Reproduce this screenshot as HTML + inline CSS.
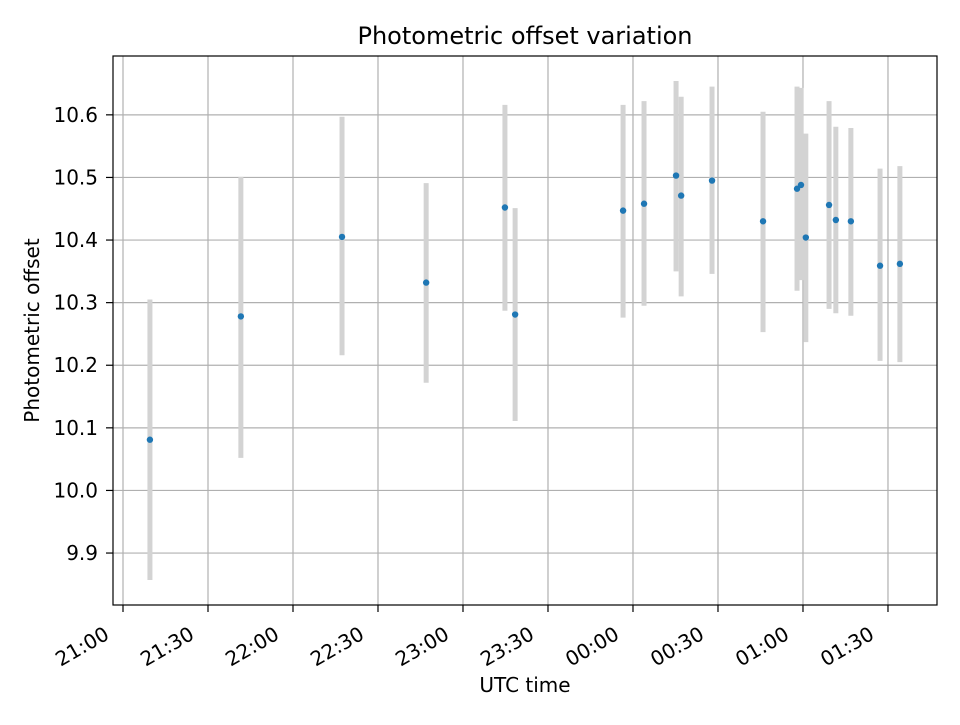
<!DOCTYPE html>
<html><head><meta charset="utf-8"><style>
body{margin:0;background:#fff;font-family:"Liberation Sans","DejaVu Sans",sans-serif}
svg text{font-family:"DejaVu Sans","Liberation Sans",sans-serif;fill:#000}
</style></head><body>
<svg id="chart" width="960" height="720" xmlns="http://www.w3.org/2000/svg"></svg>
<script>
// minutes after 21:00 UTC
const times=[9.5,41.6,77.3,107,134.8,138.4,176.5,183.9,195.2,197,207.9,225.9,237.9,239.3,241,249.2,251.6,256.9,267.2,274.2];
const offsets=[10.081,10.278,10.405,10.332,10.452,10.281,10.447,10.458,10.503,10.471,10.495,10.430,10.482,10.488,10.404,10.456,10.432,10.430,10.359,10.362];
const errLow=[9.857,10.052,10.216,10.172,10.287,10.111,10.276,10.295,10.350,10.310,10.346,10.253,10.319,10.336,10.237,10.290,10.283,10.279,10.207,10.205];
const errHigh=[10.305,10.501,10.597,10.491,10.616,10.451,10.616,10.622,10.654,10.629,10.645,10.605,10.645,10.643,10.570,10.622,10.581,10.579,10.514,10.518];
const xTickLabels=["21:00","21:30","22:00","22:30","23:00","23:30","00:00","00:30","01:00","01:30"];
const yTickLabels=["9.9","10.0","10.1","10.2","10.3","10.4","10.5","10.6"];

const L=113,R=937,T=56,B=605;
const xMin=-3.53,xMax=287.3,yMin=9.817,yMax=10.694;
const sx=v=>L+(v-xMin)/(xMax-xMin)*(R-L);
const sy=v=>B-(v-yMin)/(yMax-yMin)*(B-T);
const svg=document.getElementById('chart');
const NS="http://www.w3.org/2000/svg";
function el(tag,attrs,parent){const e=document.createElementNS(NS,tag);for(const k in attrs)e.setAttribute(k,attrs[k]);(parent||svg).appendChild(e);return e;}

const grid=el('g',{});


xTickLabels.forEach((lab,i)=>{
  const x=sx(i*30);
  el('line',{x1:x,x2:x,y1:T,y2:B,stroke:'#b0b0b0','stroke-width':1.2},grid);
  el('line',{x1:x,x2:x,y1:B,y2:B+7,stroke:'#000','stroke-width':1.2});
  const px=x-12.5,py=B+33;
  const t=el('text',{x:px,y:py,'font-size':20,'text-anchor':'end',transform:`rotate(-30 ${px} ${py})`});
  
  
  t.textContent=lab;
});
yTickLabels.forEach(lab=>{
  const y=sy(parseFloat(lab));
  el('line',{x1:L,x2:R,y1:y,y2:y,stroke:'#b0b0b0','stroke-width':1.2},grid);
  el('line',{x1:L-7,x2:L,y1:y,y2:y,stroke:'#000','stroke-width':1.2});
  const t=el('text',{x:L-15,y:y+7,'font-size':20,'text-anchor':'end'});
  
  
  t.textContent=lab;
});

times.forEach((tm,i)=>{
  const x=sx(tm);
  const eb=el('line',{x1:x,x2:x,y1:sy(errLow[i]),y2:sy(errHigh[i]),stroke:'#d3d3d3','stroke-width':5});
  
  
});
times.forEach((tm,i)=>{
  const p=el('circle',{cx:sx(tm),cy:sy(offsets[i]),r:3.2,fill:'#1f77b4'});
  
  
});

const frame=el('rect',{x:L,y:T,width:R-L,height:B-T,fill:'none',stroke:'#000','stroke-width':1.2});



const title=el('text',{x:(L+R)/2,y:44,'font-size':24,'text-anchor':'middle'});


title.textContent='Photometric offset variation';
const xt=el('text',{x:(L+R)/2,y:692,'font-size':20,'text-anchor':'middle'});


xt.textContent='UTC time';
const yt=el('text',{x:39,y:(T+B)/2,'font-size':20,'text-anchor':'middle',transform:`rotate(-90 39 ${(T+B)/2})`});


yt.textContent='Photometric offset';
</script>
</body></html>
